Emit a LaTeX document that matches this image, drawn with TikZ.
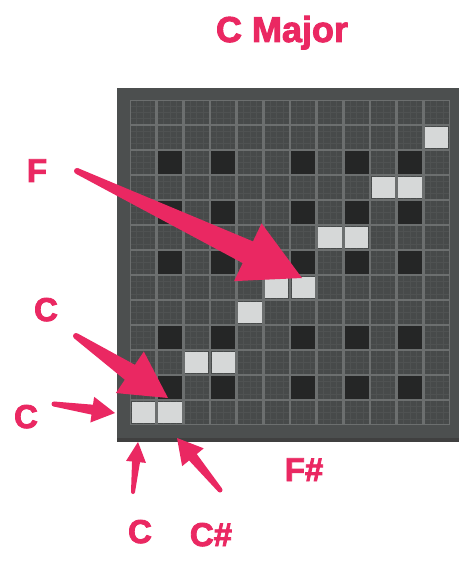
\documentclass[tikz,border=0pt]{standalone}
\usepackage{fontspec}
\setmainfont{Liberation Sans}
\newfontfamily\lblfont[BoldFeatures={FakeBold=2.6}]{Liberation Sans}
\usetikzlibrary{calc}
\definecolor{arrowpink}{RGB}{234,40,98}
\definecolor{panelc}{RGB}{76,79,79}
\definecolor{cellc}{RGB}{71,74,74}
\definecolor{texc}{RGB}{79,82,82}
\definecolor{gridc}{RGB}{108,111,111}
\definecolor{darkc}{RGB}{37,38,38}
\definecolor{lightc}{RGB}{214,216,216}
\tikzset{
  lbl/.style={inner sep=0pt, anchor=base, text=arrowpink, font=\lblfont\bfseries\fontsize{33}{36}\selectfont},
  ttl/.style={lbl, font=\lblfont\bfseries\fontsize{36}{40}\selectfont},
  fatfill/.style={fill=arrowpink}
}
% tail, tip, tail half-width, shaft half-width, head length, head half-width
\newcommand{\fatarrow}[6]{%
  \coordinate (#2-h) at ($(#2)!#5pt!(#1)$);
  \fill[fatfill] ($(#1)!#3pt!90:(#2)$) -- ($(#2-h)!#4pt!90:(#2)$) -- ($(#2-h)!#6pt!90:(#2)$)
    -- (#2) -- ($(#2-h)!#6pt!-90:(#2)$) -- ($(#2-h)!#4pt!-90:(#2)$) -- ($(#1)!#3pt!-90:(#2)$) -- cycle;
  \fill[fatfill] (#1) circle (#3pt);
}
\begin{document}
\begin{tikzpicture}[x=1pt,y=-1pt]
\useasboundingbox (0,0) rectangle (462,561);
\fill[white] (0,0) rectangle (462,561);
% panel
\fill[panelc] (117,88) rectangle (459,441);
\fill[black!75] (117,438) rectangle (459,442);
\fill[gridc] (130,100) rectangle (450,425);
\def\cw{26.667}
\def\ch{25}
\foreach \c in {0,...,11}{
  \foreach \r in {0,...,12}{
    \fill[cellc] ({130+\c*\cw+1.3},{100+\r*\ch+1.3}) rectangle ({130+(\c+1)*\cw-1.3},{100+(\r+1)*\ch-1.3});
    \foreach \k in {1,2,3}{
      \draw[texc, line width=0.5pt] ({130+\c*\cw+\k*\cw/4},{100+\r*\ch+1.3}) -- ({130+\c*\cw+\k*\cw/4},{100+(\r+1)*\ch-1.3});
      \draw[texc, line width=0.5pt] ({130+\c*\cw+1.3},{100+\r*\ch+\k*\ch/4}) -- ({130+(\c+1)*\cw-1.3},{100+\r*\ch+\k*\ch/4});
    }
  }
}
\foreach \r in {2,4,6,9,11}{
  \foreach \c in {1,3,6,8,10}{
    \fill[darkc] ({130+\c*\cw+1.3},{100+\r*\ch+1.3}) rectangle ({130+(\c+1)*\cw-1.3},{100+(\r+1)*\ch-1.3});
  }
}
\foreach \c/\r in {0/12,1/12,2/10,3/10,4/8,5/7,6/7,7/5,8/5,9/3,10/3,11/1}{
  \fill[lightc] ({130+\c*\cw+1.8},{100+\r*\ch+1.8}) rectangle ({130+(\c+1)*\cw-1.8},{100+(\r+1)*\ch-1.8});
}
% labels
\node[ttl] (title) at (282,42) {C Major};
\node[lbl] (lF) at (37,182) {F};
\node[lbl] (lCa) at (46,321) {C};
\node[lbl] (lCb) at (26,428) {C};
\node[lbl] (lCc) at (140,543) {C};
\node[lbl] (lCs) at (211,546) {C\#};
\node[lbl] (lFs) at (304,481) {F\#};
% arrow ends
\coordinate (tF) at (77,171);   \coordinate (pF) at (302,278);
\coordinate (tCa) at (76,336);  \coordinate (pCa) at (168,398);
\coordinate (tCb) at (54,404);  \coordinate (pCb) at (115,413);
\coordinate (tCc) at (133,492); \coordinate (pCc) at (138,442);
\coordinate (tCs) at (220,490); \coordinate (pCs) at (177,438);
\fatarrow{tF}{pF}{3}{12}{60}{32}
\fatarrow{tCa}{pCa}{3}{9}{46}{25}
\fatarrow{tCb}{pCb}{2.5}{5}{23}{13}
\fatarrow{tCc}{pCc}{2}{4}{20}{10}
\fatarrow{tCs}{pCs}{2.5}{5}{25}{14}
\end{tikzpicture}
\end{document}
